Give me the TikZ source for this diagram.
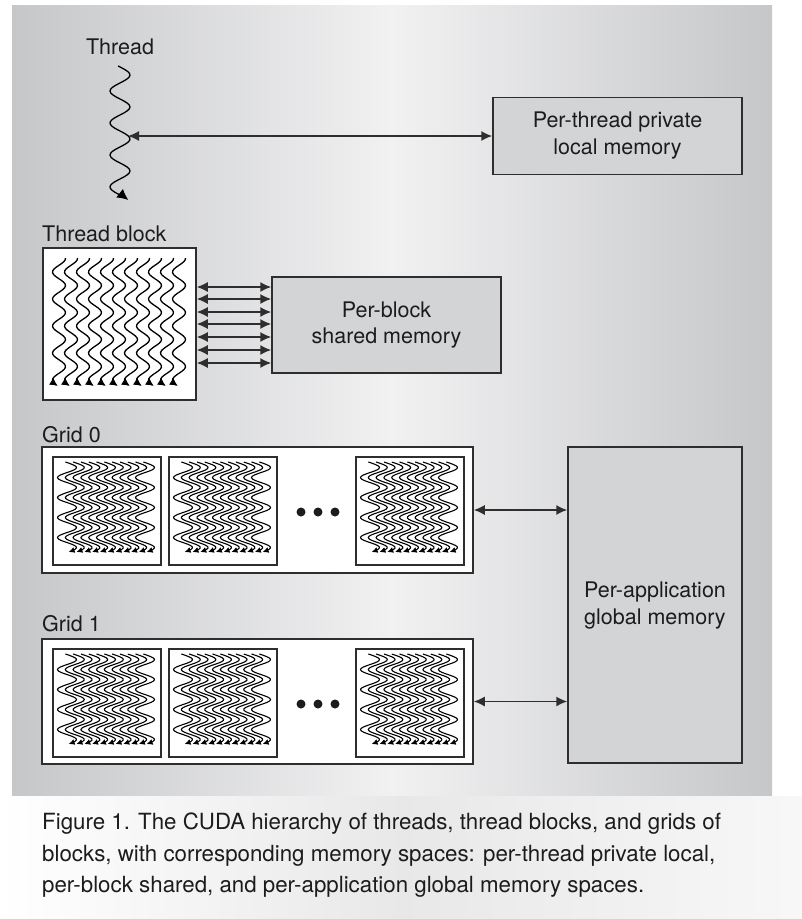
\documentclass[tikz,border=0pt]{standalone}
\usepackage{fontspec}
\setmainfont{TeX Gyre Heros}
\usepackage{tikz}
\usetikzlibrary{positioning}
\usetikzlibrary{arrows.meta}

\definecolor{panelgray}{HTML}{C6C7C9}
\definecolor{panellight}{HTML}{F1F1F2}
\definecolor{memgray}{HTML}{D3D4D6}
\definecolor{linegray}{HTML}{2E2E2E}
\definecolor{inkgray}{HTML}{1C1C1C}

% one wavy thread: x, y-top, y-bottom, amplitude, period, start phase, tip size
\newcommand{\wavythread}[7]{%
  \draw[-{Latex[length=#7pt,width=#7pt]}] plot[domain=#2:#3, samples=70, smooth, variable=\t]
    ({#1+#4*sin((360/#5)*(\t-#2)+#6)},\t);}
% eleven threads side by side: x of first, y-top, y-bottom, spacing, amplitude, period, phase, tip
\newcommand{\threadbundle}[8]{%
  \foreach \k in {0,...,10}{\wavythread{#1+\k*#4}{#2}{#3}{#5}{#6}{#7}{#8}}}

\begin{document}
\begin{tikzpicture}[x=1pt,y=-1pt,
  txt/.style={text=inkgray, font=\fontsize{21.5}{27}\selectfont, inner sep=0},
  membox/.style={draw=linegray, fill=memgray, line width=1.5, align=center,
    text=inkgray, font=\fontsize{21.5}{27}\selectfont, inner sep=0},
  blockbox/.style={draw=linegray, fill=white, line width=1.5, inner sep=0},
  biarrow/.style={{Latex[length=11pt,width=10pt]}-{Latex[length=11pt,width=10pt]}, line width=1.5, draw=linegray}]
  \useasboundingbox (0,0) rectangle (802,919);
  % backgrounds
  \shade[left color=panelgray, right color=panelgray, middle color=panellight] (12,5) rectangle (772,796);
  \shade[left color=white, right color=white!94!gray, middle color=white!82!gray] (0,796) rectangle (802,919);

  % thread
  \node[txt] (threadlbl) at (120,47) {Thread};
  \begin{scope}[line width=1.3]
    \wavythread{120}{66}{200}{10}{32}{-11}{11}
  \end{scope}
  \coordinate (tmid) at (128,136);
  \node[membox, minimum width=249, minimum height=77] (local) at (617.5,136) {Per-thread private\\local memory};
  \draw[biarrow] (tmid) -- (local.west);

  % thread block
  \node[txt, anchor=base west] (blocklbl) at (42,241) {Thread block};
  \node[blockbox, minimum width=153, minimum height=152] (block) at (119.5,324) {};
  \begin{scope}[line width=1.3]
    \threadbundle{59}{258}{386}{12}{6.5}{27}{83}{8}
  \end{scope}
  \node[membox, minimum width=229, minimum height=96] (shared) at (386.5,325) {Per-block\\shared memory};
  \foreach \y in {287,299,312,324,337,350,363}
    \draw[biarrow] (block.east |- 0,\y) -- (shared.west |- 0,\y);

  % grids
  \node[membox, minimum width=174, minimum height=316] (global) at (655,605) {Per-application\\global memory};
  \node[txt, anchor=base west] (grid0lbl) at (42,442) {Grid 0};
  \node[txt, anchor=base west] (grid1lbl) at (42,631) {Grid 1};
  \node[blockbox, minimum width=431, minimum height=126] (grid0) at (257.5,510) {};
  \node[blockbox, minimum width=431, minimum height=125] (grid1) at (257.5,701.5) {};
  \foreach \g/\gy in {0/456, 1/648} {
    \foreach \bx [count=\b] in {52,168,355} {
      \node[blockbox, minimum width=108, minimum height=108, anchor=north west] (g\g b\b) at (\bx,\gy) {};
      \pgfmathsetmacro\ta{\gy+6}
      \pgfmathsetmacro\tb{\gy+96}
      \begin{scope}[line width=1.1]
        \threadbundle{\bx+15}{\ta}{\tb}{7.8}{9.5}{20}{-10}{6}
      \end{scope}
    }
    \foreach \dx in {301,318,335}
      \fill[inkgray] (\dx,\gy+56) circle (4.5);
  }
  \draw[biarrow] (grid0.east) -- (global.west |- grid0.east);
  \draw[biarrow] (grid1.east) -- (global.west |- grid1.east);

  % caption
  \node[txt, anchor=north west, align=left, font=\fontsize{22.3}{31.5}\selectfont] (caption) at (42,813)
    {Figure 1. The CUDA hierarchy of threads, thread blocks, and grids of\\
     blocks, with corresponding memory spaces: per-thread private local,\\
     per-block shared, and per-application global memory spaces.};
\end{tikzpicture}
\end{document}
